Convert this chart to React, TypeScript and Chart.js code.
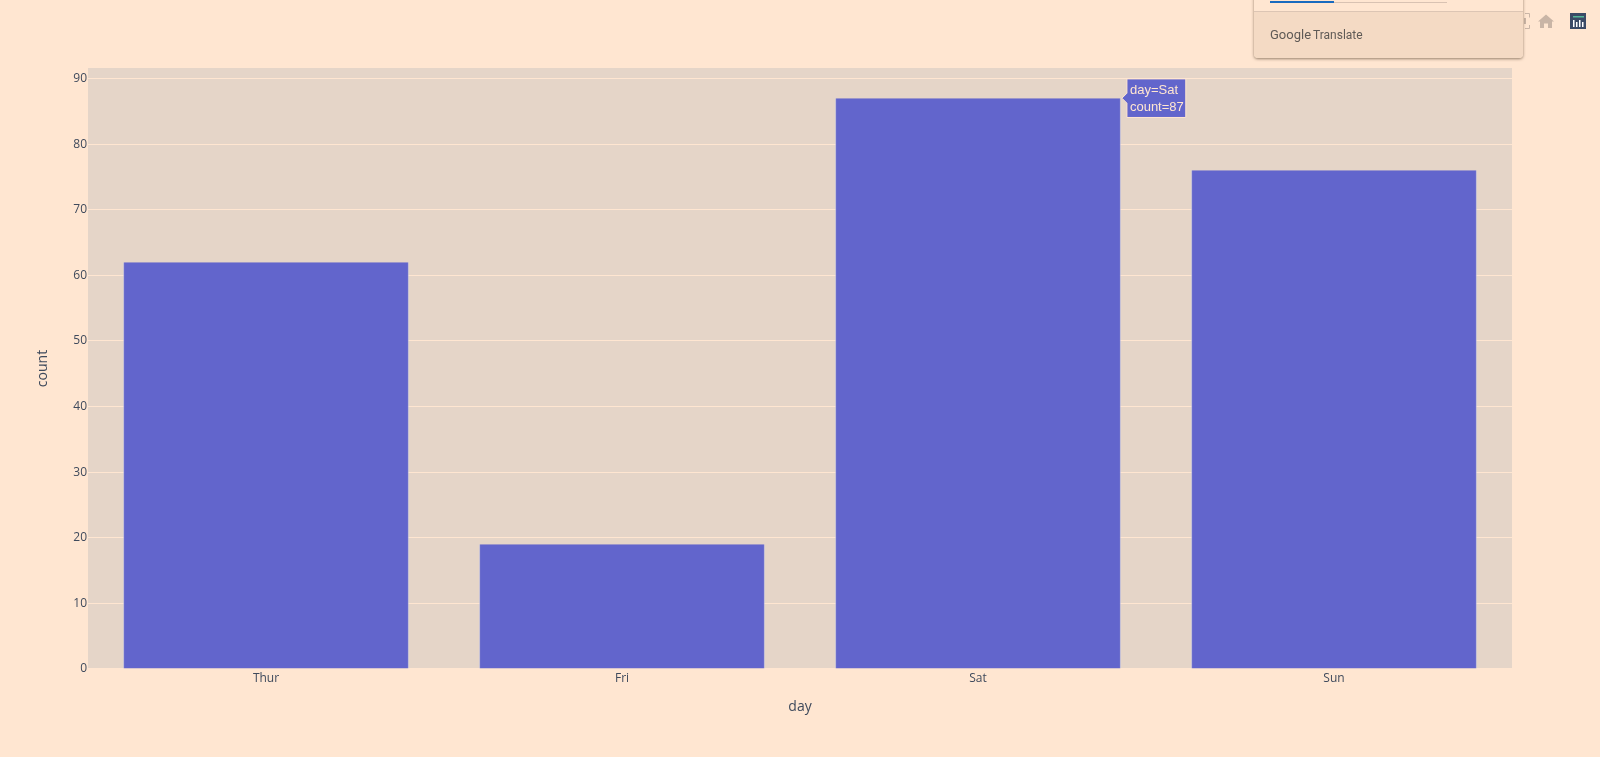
import React, { useEffect, useRef } from "react";
import { Chart, registerables, Tooltip } from "chart.js";

Chart.register(...registerables);

const days = ["Thur", "Fri", "Sat", "Sun"];
const counts = [62, 19, 87, 76];
const hoveredIndex = 2;
const yMax = 91.6;
const yStep = 10;
const xTitle = "day";
const yTitle = "count";

const PAGE = "#ffe6d1";
const PLOT = "#e5d5c8";
const GRID = "#ffe6d1";
const BAR = "#6265cc";
const INK = "#3f4a5c";
const FONT = "'Open Sans', sans-serif";

(Tooltip.positioners as any).barCorner = function (items: any[]) {
  if (!items.length) return false;
  const el = items[0].element;
  return { x: el.x + el.width / 2, y: el.y };
};

const plotBackground = {
  id: "plotBackground",
  beforeDraw(chart: any) {
    const { ctx, chartArea: a } = chart;
    ctx.save();
    ctx.fillStyle = PLOT;
    ctx.fillRect(a.left, a.top, a.right - a.left, a.bottom - a.top - 1);
    ctx.restore();
  },
};

export default function App() {
  const ref = useRef<HTMLCanvasElement>(null);

  useEffect(() => {
    document.body.style.margin = "0";
    document.body.style.background = PAGE;
    const chart = new Chart(ref.current as HTMLCanvasElement, {
      type: "bar",
      data: {
        labels: days,
        datasets: [
          {
            data: counts,
            backgroundColor: BAR,
            borderColor: "rgba(170,175,225,0.6)",
            borderWidth: { left: 1, right: 1, top: 0, bottom: 0 },
            barPercentage: 0.803,
            categoryPercentage: 1,
          },
        ],
      },
      plugins: [plotBackground],
      options: {
        responsive: false,
        animation: false,
        events: [],
        layout: { padding: { top: 68, right: 88, left: 35, bottom: 42 } },
        scales: {
          x: {
            grid: { display: false, drawTicks: false },
            border: { display: false },
            ticks: { color: INK, font: { family: FONT, size: 12 }, padding: 2, maxRotation: 0 },
            title: {
              display: true,
              text: xTitle,
              color: INK,
              font: { family: FONT, size: 14 },
              padding: { top: 11, bottom: 0 },
            },
            afterFit(s: any) {
              s.height = 46;
            },
          },
          y: {
            min: 0,
            max: yMax,
            grid: {
              color: (c: any) => (c.tick.value === 0 ? "rgba(0,0,0,0)" : GRID),
              lineWidth: 1,
              drawTicks: false,
            },
            border: { display: false },
            ticks: {
              stepSize: yStep,
              includeBounds: false,
              color: INK,
              font: { family: FONT, size: 12 },
              padding: 1,
            },
            title: {
              display: true,
              text: yTitle,
              color: INK,
              font: { family: FONT, size: 14 },
              padding: 0,
            },
            afterFit(s: any) {
              s.width = 53;
            },
          },
        },
        plugins: {
          legend: { display: false },
          tooltip: {
            enabled: true,
            position: "barCorner" as any,
            xAlign: "left",
            yAlign: "center",
            backgroundColor: BAR,
            borderColor: "#ffe6d1",
            borderWidth: 1,
            cornerRadius: 0,
            caretSize: 5,
            caretPadding: 1,
            padding: { left: 3, right: 2, top: 4, bottom: 2 },
            displayColors: false,
            bodyColor: "#ffe6d1",
            bodyFont: { family: "'Liberation Sans', Arial, sans-serif", size: 13 },
            bodySpacing: 1.4,
            callbacks: {
              title: () => "",
              label: (c: any) => [`${xTitle}=${c.label}`, `${yTitle}=${c.parsed.y}`],
            },
          },
        },
      },
    } as any);
    chart.tooltip?.setActiveElements([{ datasetIndex: 0, index: hoveredIndex }], { x: 0, y: 0 });
    chart.update();
    return () => chart.destroy();
  }, []);

  return (
    <div style={{ position: "relative", width: 1600, height: 757, overflow: "hidden", background: PAGE }}>
      <canvas ref={ref} width={1600} height={757} style={{ display: "block", position: "absolute", left: 0, top: 0 }} />

      {/* modebar */}
      <svg width={100} height={40} style={{ position: "absolute", left: 1500, top: 0 }}>
        <path d="M25 13.5h4.5v4M29.5 25v3.5H25" fill="none" stroke="#c9b5a6" strokeWidth={1} />
        <rect x={24} y={18} width={2} height={6} fill="#c9b5a6" />
        <path d="M38 21.5l8-7 8 7h-2v6.5h-4v-4.5h-4V28h-4v-6.5z" fill="#c9b5a6" />
        <rect x={70} y={13} width={16} height={16} fill="#3b4a66" />
        <rect x={73} y={20} width={1.5} height={7} fill="#fff" />
        <rect x={76} y={22} width={1.5} height={5} fill="#fff" />
        <rect x={79} y={20} width={1.5} height={7} fill="#fff" />
        <rect x={82} y={22} width={1.5} height={5} fill="#fff" />
        <rect x={73} y={16} width={11} height={1.5} fill="#6fb" opacity={0.6} />
      </svg>

      {/* translate popup */}
      <div
        style={{
          position: "absolute",
          left: 1254,
          top: -20,
          width: 269,
          height: 78,
          boxSizing: "border-box",
          background: PAGE,
          borderRadius: 4,
          boxShadow: "0 1px 3px rgba(60,40,20,0.55)",
          overflow: "hidden",
        }}
      >
        <div style={{ position: "absolute", left: 16, top: 22, width: 177, height: 1, background: "#d9c2b2" }} />
        <div style={{ position: "absolute", left: 16, top: 21, width: 64, height: 2, background: "#1a6bbf" }} />
        <div
          style={{
            position: "absolute",
            left: 0,
            right: 0,
            top: 31,
            bottom: 0,
            background: "#f4dac4",
            borderTop: "1px solid #dcc5b4",
            fontFamily: "Roboto, sans-serif",
            color: "#5f5a56",
          }}
        >
          <span style={{ position: "absolute", left: 16, top: 15, fontSize: 13, whiteSpace: "nowrap" }}>Google</span>
          <span style={{ position: "absolute", left: 59, top: 16, fontSize: 12, whiteSpace: "nowrap" }}>Translate</span>
        </div>
      </div>
    </div>
  );
}
